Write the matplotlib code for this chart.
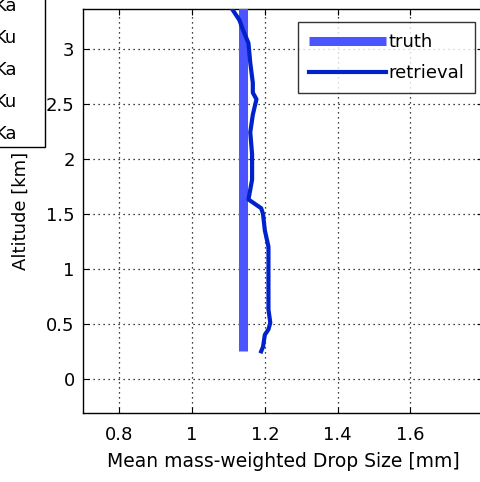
import matplotlib
matplotlib.use("Agg")
import matplotlib.pyplot as plt
from matplotlib.patches import Rectangle

plt.rcParams['font.family'] = ['DejaVu Sans']

W, H = 481, 482
fig = plt.figure(figsize=(W/100, H/100), dpi=100)

# data
truth_x = [1.14, 1.14]
truth_y = [0.25, 3.40]
retr_x = [1.19, 1.195, 1.20, 1.21, 1.215, 1.21, 1.21, 1.20, 1.195, 1.19, 1.155,
          1.16, 1.165, 1.165, 1.16, 1.167, 1.177, 1.167, 1.167, 1.16, 1.155,
          1.14, 1.13, 1.11]
retr_y = [0.25, 0.29, 0.40, 0.45, 0.51, 0.63, 1.20, 1.35, 1.50, 1.55, 1.63,
          1.72, 1.81, 2.04, 2.24, 2.40, 2.54, 2.60, 2.69, 2.87, 3.05,
          3.17, 3.26, 3.36]
xticks = [0.8, 1.0, 1.2, 1.4, 1.6]
xticklabels = ['0.8', '1', '1.2', '1.4', '1.6']
yticks = [0, 0.5, 1, 1.5, 2, 2.5, 3]
yticklabels = ['0', '0.5', '1', '1.5', '2', '2.5', '3']
side_legend = ['Ka', 'Ku', 'Ka', 'Ku', 'Ka']

FS = 13

def fx(px):
    return px / W
def fy(py):
    return 1 - py / H

ax_l, ax_r, ax_t, ax_b = 83, 483, 9, 413
ax = fig.add_axes([fx(ax_l), fy(ax_b), (ax_r-ax_l)/W, (ax_b-ax_t)/H])
ax.plot(truth_x, truth_y, color='#4a55ff', lw=6.5, solid_capstyle='butt', label='truth', zorder=3)
ax.plot(retr_x, retr_y, color='#0022cc', lw=3, label='retrieval', zorder=4)
ax.set_xlim(0.7, 1.8)
ax.set_ylim(-0.31, 3.36)
ax.set_xticks(xticks)
ax.set_xticklabels(xticklabels)
ax.set_yticks(yticks)
ax.set_yticklabels(yticklabels)
ax.grid(True, color='black', linestyle=(0, (1, 3)), linewidth=0.9)
ax.tick_params(direction='in', length=4, width=0.8, top=True, right=True,
               labelsize=FS, colors='black')
ax.tick_params(axis='x', pad=9)
ax.tick_params(axis='y', pad=6)
for s in ax.spines.values():
    s.set_linewidth(1.0)
ax.set_xlabel('Mean mass-weighted Drop Size [mm]', fontsize=13.5, labelpad=6)
ax.set_ylabel('Altitude [km]', fontsize=FS, labelpad=12)
leg = ax.legend(loc='upper right', bbox_to_anchor=((475-ax_l)/(ax_r-ax_l), (ax_b-22)/(ax_b-ax_t)),
                fontsize=FS, frameon=True, fancybox=False, edgecolor='black',
                handlelength=4.3, handletextpad=0.1, borderpad=0.6, labelspacing=0.75,
                borderaxespad=0)
leg.get_frame().set_linewidth(1.0)

# clipped legend of neighbouring panel
fig.add_artist(Rectangle((fx(-20), fy(147)), (45+20)/W, 160/H, transform=fig.transFigure,
                         fill=True, facecolor='white', edgecolor='black', lw=1.0, zorder=5))
for i, t in enumerate(side_legend):
    fig.text(fx(-6), fy(6 + i*32), t, fontsize=FS, ha='left', va='center', zorder=6)

fig.savefig('out.png', dpi=100)
